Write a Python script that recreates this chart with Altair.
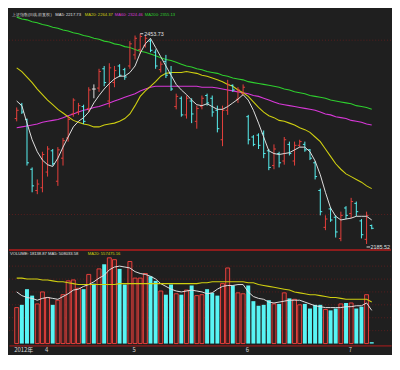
import altair as alt
import pandas as pd

# ---------------- data ----------------
idx = list(range(70))
open_ = [2345.5, 2363.2, 2344.4, 2280.9, 2253.8, 2257.3, 2277.3, 2304.4, 2265.6, 2295.0,
         2320.8, 2351.4, 2353.8, 2360.8, 2358.5, 2383.2, 2384.4, 2409.0, 2367.9, 2391.4,
         2412.6, 2407.9, 2412.6, 2426.7, 2433.7, 2438.4, 2444.3, 2430.2, 2407.9, 2418.5,
         2403.2, 2360.8, 2371.4, 2350.2, 2367.9, 2342.0, 2360.8, 2374.9, 2371.4, 2356.1,
         2318.5, 2356.1, 2387.9, 2370.2, 2377.3, 2347.9, 2322.0, 2324.4, 2326.7, 2304.4,
         2285.6, 2300.9, 2291.4, 2312.6, 2291.4, 2311.4, 2312.6, 2305.6, 2289.1, 2253.8,
         2206.8, 2230.3, 2219.7, 2192.5, 2231.5, 2224.4, 2237.4, 2215.0, 2191.5, 2209.1]
high = [2359.7, 2365.5, 2345.5, 2283.2, 2267.9, 2303.2, 2310.3, 2306.7, 2309.1, 2320.8,
        2347.9, 2371.4, 2365.5, 2363.2, 2385.5, 2389.1, 2409.0, 2412.6, 2416.1, 2412.6,
        2414.9, 2410.2, 2444.3, 2451.4, 2453.73, 2451.4, 2446.7, 2433.7, 2418.5, 2426.7,
        2412.6, 2377.3, 2373.8, 2374.9, 2371.4, 2362.0, 2374.9, 2377.3, 2374.9, 2362.0,
        2362.0, 2394.9, 2389.1, 2385.5, 2389.1, 2350.2, 2324.4, 2326.7, 2330.3, 2306.7,
        2312.6, 2303.2, 2322.0, 2316.1, 2316.1, 2318.5, 2316.1, 2306.7, 2291.4, 2256.2,
        2222.1, 2232.6, 2222.1, 2226.8, 2233.8, 2244.4, 2239.7, 2217.4, 2226.8, 2210.3]
low = [2342.0, 2351.4, 2285.6, 2251.5, 2249.1, 2251.5, 2271.5, 2285.6, 2259.7, 2285.6,
       2316.1, 2347.9, 2350.2, 2338.5, 2353.8, 2371.4, 2379.6, 2386.7, 2359.7, 2385.5,
       2398.5, 2394.9, 2409.0, 2420.8, 2427.9, 2436.1, 2430.2, 2409.0, 2404.3, 2397.3,
       2380.8, 2357.3, 2347.9, 2345.5, 2339.7, 2332.6, 2357.3, 2362.0, 2347.9, 2327.9,
       2310.3, 2350.2, 2379.6, 2365.5, 2374.9, 2312.6, 2310.3, 2306.7, 2295.0, 2279.7,
       2280.9, 2283.2, 2286.7, 2298.5, 2285.6, 2309.1, 2303.2, 2292.6, 2267.9, 2222.1,
       2203.2, 2213.8, 2193.8, 2189.1, 2217.4, 2218.5, 2220.9, 2192.7, 2185.52, 2204.4]
close = [2356.1, 2353.8, 2289.1, 2259.7, 2262.0, 2299.7, 2306.7, 2287.9, 2305.6, 2317.3,
         2344.4, 2369.1, 2362.0, 2342.0, 2382.0, 2383.2, 2405.5, 2391.4, 2410.2, 2406.7,
         2400.8, 2398.5, 2440.8, 2447.9, 2450.2, 2447.9, 2432.6, 2412.6, 2414.9, 2400.8,
         2383.2, 2373.8, 2350.2, 2371.4, 2351.4, 2358.5, 2371.4, 2365.5, 2353.8, 2332.6,
         2356.1, 2389.1, 2382.0, 2382.0, 2385.5, 2318.5, 2312.6, 2311.4, 2300.9, 2283.2,
         2306.7, 2289.1, 2318.5, 2300.9, 2311.4, 2316.1, 2305.6, 2295.0, 2271.5, 2226.8,
         2217.4, 2216.2, 2200.9, 2222.1, 2222.1, 2239.7, 2226.8, 2197.4, 2222.1, 2205.6]
ma5 = [2367.9, 2362.0, 2339.7, 2318.5, 2303.2, 2292.6, 2286.7, 2284.4, 2295.0, 2309.1,
       2322.0, 2334.9, 2342.0, 2346.7, 2353.8, 2365.5, 2374.9, 2383.2, 2390.2, 2396.1,
       2399.6, 2399.6, 2404.3, 2412.6, 2429.0, 2440.8, 2447.9, 2436.1, 2424.3, 2412.6,
       2400.8, 2389.1, 2382.0, 2376.1, 2369.1, 2363.2, 2362.0, 2364.4, 2360.8, 2357.3,
       2357.3, 2360.8, 2365.5, 2370.2, 2376.1, 2369.1, 2356.1, 2339.7, 2322.0, 2304.4,
       2300.9, 2299.7, 2300.9, 2302.0, 2305.6, 2309.1, 2309.1, 2303.2, 2291.4, 2273.8,
       2251.5, 2231.5, 2220.9, 2216.2, 2217.4, 2218.5, 2220.9, 2220.9, 2220.9, 2216.2]
ma20 = [2410.2, 2405.5, 2398.5, 2391.4, 2383.2, 2376.1, 2369.1, 2363.2, 2357.3, 2352.6,
        2347.9, 2343.2, 2340.8, 2338.5, 2337.3, 2334.9, 2334.9, 2337.3, 2338.5, 2339.7,
        2342.0, 2345.5, 2351.4, 2362.0, 2373.8, 2380.8, 2386.7, 2392.6, 2399.6, 2403.2,
        2404.3, 2404.3, 2404.3, 2405.5, 2404.3, 2403.2, 2400.8, 2399.6, 2397.3, 2394.9,
        2392.6, 2389.1, 2386.7, 2382.0, 2378.5, 2373.8, 2366.7, 2359.7, 2353.8, 2349.1,
        2346.7, 2343.2, 2342.0, 2339.7, 2337.3, 2333.8, 2331.4, 2327.9, 2322.0, 2316.1,
        2306.7, 2297.3, 2287.9, 2280.9, 2275.0, 2271.5, 2267.9, 2264.4, 2259.7, 2256.2]
ma60 = [2333.8, 2334.9, 2336.1, 2337.3, 2338.5, 2340.8, 2342.0, 2343.2, 2344.4, 2346.7,
        2349.1, 2351.4, 2353.8, 2356.1, 2357.3, 2359.7, 2360.8, 2363.2, 2365.5, 2367.9,
        2370.2, 2372.6, 2374.9, 2377.3, 2380.8, 2383.2, 2385.5, 2386.7, 2386.7, 2386.7,
        2386.7, 2386.7, 2386.7, 2386.7, 2386.7, 2386.7, 2385.5, 2385.5, 2385.5, 2384.4,
        2383.2, 2382.0, 2380.8, 2379.6, 2378.5, 2377.3, 2374.9, 2373.8, 2371.4, 2369.1,
        2366.7, 2364.4, 2363.2, 2362.0, 2360.8, 2359.7, 2358.5, 2357.3, 2356.1, 2353.8,
        2351.4, 2350.2, 2347.9, 2346.7, 2345.5, 2343.2, 2342.0, 2340.8, 2338.5, 2337.3]
ma200 = [2474.9, 2472.5, 2471.4, 2469.0, 2467.8, 2465.5, 2464.3, 2462.0, 2460.8, 2458.4,
         2457.3, 2454.9, 2453.7, 2451.4, 2450.2, 2447.9, 2446.7, 2444.3, 2443.1, 2440.8,
         2439.6, 2437.3, 2436.1, 2433.7, 2431.4, 2430.2, 2427.9, 2425.5, 2423.2, 2420.8,
         2419.6, 2417.3, 2414.9, 2412.6, 2411.4, 2409.0, 2407.9, 2405.5, 2404.3, 2403.2,
         2400.8, 2399.6, 2397.3, 2396.1, 2394.9, 2392.6, 2391.4, 2390.2, 2389.1, 2387.9,
         2386.7, 2385.5, 2383.2, 2382.0, 2379.6, 2378.5, 2377.3, 2374.9, 2373.8, 2372.6,
         2371.4, 2369.1, 2367.9, 2366.7, 2365.5, 2364.4, 2362.0, 2360.8, 2359.7, 2357.3]
volume = [471900, 508200, 713900, 629200, 520300, 677600, 605000, 508200, 568700, 641300,
          822800, 834900, 726000, 713900, 907500, 786500, 980100, 1040600, 1125300, 1101100,
          980100, 774400, 1076900, 859100, 859100, 919600, 883300, 822800, 689700, 641300,
          774400, 653400, 641300, 701800, 762300, 629200, 641300, 713900, 665500, 629200,
          786500, 992200, 762300, 665500, 653400, 762300, 556600, 496100, 508200, 568700,
          520300, 520300, 665500, 592900, 580800, 508200, 520300, 459800, 508200, 508200,
          447700, 435600, 459800, 520300, 532400, 532400, 459800, 484000, 641300, 18138.87]
vol_ma5 = [677600, 629200, 605000, 592900, 568700, 592900, 605000, 592900, 580800, 617100,
           653400, 701800, 713900, 750200, 774400, 810700, 859100, 895400, 968000, 1004300,
           1016400, 1004300, 992200, 943800, 919600, 907500, 883300, 847000, 786500, 750200,
           713900, 689700, 677600, 689700, 701800, 689700, 677600, 653400, 665500, 713900,
           750200, 762300, 762300, 774400, 774400, 677600, 617100, 592900, 580800, 544500,
           532400, 544500, 556600, 568700, 568700, 568700, 544500, 520300, 496100, 484000,
           471900, 471900, 471900, 471900, 484000, 484000, 496100, 496100, 532400, 435600]
vol_ma20 = [859100, 859100, 847000, 847000, 847000, 834900, 834900, 822800, 810700, 810700,
            798600, 786500, 774400, 774400, 774400, 774400, 774400, 774400, 774400, 774400,
            786500, 786500, 786500, 786500, 786500, 786500, 786500, 786500, 786500, 786500,
            786500, 786500, 786500, 786500, 786500, 786500, 798600, 798600, 810700, 810700,
            810700, 810700, 810700, 810700, 810700, 798600, 798600, 774400, 762300, 750200,
            738100, 726000, 713900, 701800, 677600, 665500, 653400, 641300, 641300, 629200,
            617100, 605000, 605000, 592900, 580800, 580800, 580800, 580800, 580800, 544500]

month_ticks = [0, 6, 23, 45, 65]
month_labels = ["2012年", "4", "5", "6", "7"]
price_grid = [2445.5, 2223.2]
volume_grid = [1016400, 846000, 677600, 508200, 338800, 169400]

title_texts = ["上证指数(日线,前复权)", "MA5: 2217.73", "MA20: 2264.37", "MA60: 2324.46", "MA200: 2355.13"]
vol_texts = ["VOLUME: 18138.87 MA5: 508033.58", "MA20: 557475.16"]

# ---------------- styling ----------------
BG = "#1f1f1f"
RED = "#e8403c"
CYAN = "#58f4f4"
WHITE = "#e0e0e0"
YELLOW = "#cfcf10"
MAGENTA = "#d838d8"
GREEN = "#2ecf2e"
GRID = "#5a1e1e"
SEP = "#b41c1c"

df = pd.DataFrame({"i": idx, "open": open_, "high": high, "low": low, "close": close,
                   "ma5": ma5, "ma20": ma20, "ma60": ma60, "ma200": ma200,
                   "vol": volume, "vma5": vol_ma5, "vma20": vol_ma20})
df["dir"] = ["up" if c > o else ("down" if c < o else "flat") for o, c in zip(open_, close)]

label_expr = " : ".join(f"datum.value == {t} ? '{l}'" for t, l in zip(month_ticks, month_labels)) + " : ''"
x_scale = alt.Scale(domain=[-0.543, 71.79], nice=False, zero=False)
x_axis = alt.Axis(values=month_ticks, labelExpr=label_expr, title=None, grid=False, ticks=False,
                  domainColor=SEP, domainWidth=1, labelColor="#d8d8d8", labelFontSize=6,
                  labelFont="Noto Sans CJK SC", labelAlign="left", labelOffset=-3, labelPadding=1,
                  labelFlush=False, labelOverlap=False, labelBound=False)
X = alt.X("i:Q", scale=x_scale, axis=x_axis)

price_scale = alt.Scale(domain=[2180, 2480], range=[241.4, 2.49], nice=False, zero=False)
vol_scale = alt.Scale(domain=[0, 1150000], range=[338.1, 249.1], nice=False, zero=False)
dir_color = alt.Color("dir:N", scale=alt.Scale(domain=["up", "down", "flat"], range=[RED, CYAN, WHITE]),
                      legend=None)

base = alt.Chart(df)

grid_p = alt.Chart(pd.DataFrame({"p": price_grid})).mark_rule(
    color=GRID, strokeDash=[1, 2], strokeWidth=1).encode(y=alt.Y("p:Q", scale=price_scale, axis=None))
grid_v = alt.Chart(pd.DataFrame({"v": volume_grid})).mark_rule(
    color=GRID, strokeDash=[1, 2], strokeWidth=1).encode(y=alt.Y("v:Q", scale=vol_scale, axis=None))
sep = alt.Chart(pd.DataFrame({"a": [0]})).mark_rule(color=SEP, strokeWidth=1.6).encode(y=alt.value(243))


def ma_line(field, color, width=1.1):
    return base.mark_line(color=color, strokeWidth=width).encode(
        x=X, y=alt.Y(f"{field}:Q", scale=price_scale, axis=None))


hl = base.mark_rule(strokeWidth=1).encode(
    x=X, y=alt.Y("low:Q", scale=price_scale, axis=None), y2="high:Q", color=dir_color)
op = base.transform_calculate(xo="datum.i - 0.38").mark_rule(strokeWidth=1).encode(
    x=alt.X("xo:Q", scale=x_scale, axis=x_axis), x2="i:Q",
    y=alt.Y("open:Q", scale=price_scale, axis=None), color=dir_color)
cl = base.transform_calculate(xc="datum.i + 0.38").mark_rule(strokeWidth=1).encode(
    x=X, x2="xc:Q", y=alt.Y("close:Q", scale=price_scale, axis=None), color=dir_color)

vol_up = base.transform_filter("datum.dir == 'up'").mark_bar(
    size=4, fill="#3a1f1f", stroke=RED, strokeWidth=1).encode(
    x=X, y=alt.Y("vol:Q", scale=vol_scale, axis=None))
vol_dn = base.transform_filter("datum.dir != 'up'").mark_bar(
    size=4, color=CYAN).encode(x=X, y=alt.Y("vol:Q", scale=vol_scale, axis=None))
vma5_line = base.mark_line(color=WHITE, strokeWidth=1).encode(
    x=X, y=alt.Y("vma5:Q", scale=vol_scale, axis=None))
vma20_line = base.mark_line(color=YELLOW, strokeWidth=1.1).encode(
    x=X, y=alt.Y("vma20:Q", scale=vol_scale, axis=None))

# high / low annotations
peak = base.transform_joinaggregate(mh="max(high)").transform_filter("datum.high == datum.mh")
peak_lead = peak.transform_calculate(xr="datum.i + 0.6").mark_rule(color=WHITE, strokeWidth=1).encode(
    x=X, x2="xr:Q", y=alt.Y("high:Q", scale=price_scale, axis=None))
peak_txt = peak.mark_text(align="left", baseline="middle", dx=4, fontSize=5.5, color=WHITE,
                          font="Liberation Sans").encode(
    x=X, y=alt.Y("high:Q", scale=price_scale, axis=None), text=alt.Text("high:Q", format=".2f"))
trough = base.transform_joinaggregate(ml="min(low)").transform_filter("datum.low == datum.ml")
low_lead = trough.transform_calculate(xr="datum.i + 0.7").mark_rule(
    color=WHITE, strokeWidth=1, yOffset=3).encode(
    x=X, x2="xr:Q", y=alt.Y("low:Q", scale=price_scale, axis=None))
low_txt = trough.mark_text(align="left", baseline="middle", dx=4, dy=3, fontSize=5.5, color=WHITE,
                           font="Liberation Sans").encode(
    x=X, y=alt.Y("low:Q", scale=price_scale, axis=None), text=alt.Text("low:Q", format=".2f"))

# title texts
title_x = [3, 47, 77, 107.5, 138]
title_col = ["#cfcfcf", WHITE, YELLOW, MAGENTA, GREEN]
title_layers = []
for t, xx, c in zip(title_texts, title_x, title_col):
    title_layers.append(alt.Chart(pd.DataFrame({"t": [t]})).mark_text(
        align="left", baseline="middle", fontSize=4.2, color=c, font="Liberation Sans").encode(
        x=alt.value(xx), y=alt.value(4), text="t:N"))
vol_x = [1, 80]
vol_col = [WHITE, YELLOW]
for t, xx, c in zip(vol_texts, vol_x, vol_col):
    title_layers.append(alt.Chart(pd.DataFrame({"t": [t]})).mark_text(
        align="left", baseline="middle", fontSize=4.2, color=c, font="Liberation Sans").encode(
        x=alt.value(xx), y=alt.value(246.8), text="t:N"))

chart = alt.layer(
    grid_p, grid_v,
    ma_line("ma200", GREEN), ma_line("ma60", MAGENTA), ma_line("ma20", YELLOW),
    hl, op, cl,
    ma_line("ma5", WHITE, 1.0),
    vol_up, vol_dn, vma5_line, vma20_line,
    sep,
    peak_lead, peak_txt, low_lead, low_txt,
    *title_layers,
).resolve_scale(y="independent").properties(
    width=388, height=340, background=BG, padding=0
).configure_view(strokeWidth=0)

chart.save("out.html", embed_options={"renderer": "svg", "actions": False})
